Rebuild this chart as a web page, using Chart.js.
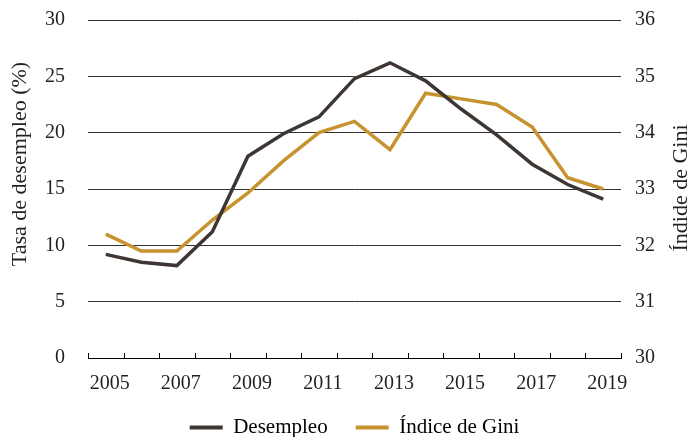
<!DOCTYPE html>
<html>
<head>
<meta charset="utf-8">
<script src="https://cdn.jsdelivr.net/npm/chart.js@4.4.1/dist/chart.umd.min.js"></script>
<style>
    html, body { margin: 0; padding: 0; background: #fff; }
    #wrap { width: 691px; height: 437px; }
</style>
</head>
<body>
<div id="wrap"><canvas id="chart" width="691" height="437"></canvas></div>
<script>
const years = ['2005', '2006', '2007', '2008', '2009', '2010', '2011', '2012', '2013', '2014', '2015', '2016', '2017', '2018', '2019'];
const desempleo = [9.2, 8.5, 8.2, 11.2, 17.9, 19.9, 21.4, 24.8, 26.2, 24.6, 22.1, 19.8, 17.2, 15.4, 14.1];
const gini = [32.2, 31.9, 31.9, 32.45, 32.93, 33.5, 34.0, 34.2, 33.7, 34.7, 34.6, 34.5, 34.1, 33.2, 33.0];

const leftTitle = 'Tasa de desempleo (%)';
const rightTitle = 'Índide de Gini';

const textColor = '#231f20';
const darkLine = '#3e3632';
const goldLine = '#c6932f';
const serif = "'Liberation Serif', 'Times New Roman', serif";

Chart.defaults.font.family = serif;
Chart.defaults.font.size = 20;
Chart.defaults.color = textColor;

// small tick marks on the x axis, pointing up between the years
const innerTicks = {
    id: 'innerTicks',
    afterDraw: (chart) => {
        const x = chart.scales.x;
        const ctx = chart.ctx;
        ctx.save();
        ctx.strokeStyle = '#000';
        ctx.lineWidth = 1;
        for (let i = 0; i <= years.length; i++) {
            const px = Math.round(x.getPixelForValue(i - 0.5)) + 0.5;
            ctx.beginPath();
            ctx.moveTo(px, x.top);
            ctx.lineTo(px, x.top - 5);
            ctx.stroke();
        }
        ctx.restore();
    }
};

// both axis titles read bottom to top
const axisTitles = {
    id: 'axisTitles',
    afterDraw: (chart) => {
        const { y, y2 } = chart.scales;
        const ctx = chart.ctx;
        const drawVertical = (text, cx, cy) => {
            ctx.save();
            ctx.translate(cx, cy);
            ctx.rotate(-Math.PI / 2);
            ctx.font = '22px ' + serif;
            ctx.fillStyle = textColor;
            ctx.textAlign = 'center';
            ctx.textBaseline = 'middle';
            ctx.fillText(text, 0, 0);
            ctx.restore();
        };
        drawVertical(leftTitle, y.left + 20, y.top + 144);
        drawVertical(rightTitle, y2.right - 10, y2.top + 168);
    }
};

// fixed axis box sizes; the wide label padding should not push the plot down
const fixSide = (width) => (scale) => {
    scale.width = width;
    scale.paddingTop = 0;
    scale.paddingBottom = 0;
};

const ctx = document.getElementById('chart').getContext('2d');

new Chart(ctx, {
    type: 'line',
    data: {
        labels: years,
        datasets: [{
            label: 'Desempleo',
            data: desempleo,
            yAxisID: 'y',
            borderColor: darkLine,
            backgroundColor: darkLine,
            borderWidth: 3.5,
            pointRadius: 0,
            tension: 0
        }, {
            label: 'Índice de Gini',
            data: gini,
            yAxisID: 'y2',
            borderColor: goldLine,
            backgroundColor: goldLine,
            borderWidth: 3.5,
            pointRadius: 0,
            tension: 0
        }]
    },
    options: {
        responsive: false,
        animation: false,
        layout: { padding: { top: 20, left: 0, right: 0, bottom: 0 } },
        scales: {
            x: {
                offset: true,
                grid: { display: false },
                border: { display: true, color: '#000', width: 1 },
                ticks: {
                    autoSkip: false,
                    maxRotation: 0,
                    padding: 6,
                    labelOffset: 4,
                    font: { size: 20 },
                    callback: (value, index) => index % 2 === 0 ? years[index] : ''
                },
                afterFit: (scale) => { scale.height = 31; }
            },
            y: {
                position: 'left',
                min: 0,
                max: 30,
                ticks: { stepSize: 5, padding: 23, font: { size: 20 } },
                grid: { color: '#333', lineWidth: 1, drawTicks: false },
                border: { display: false },
                afterFit: fixSide(88)
            },
            y2: {
                position: 'right',
                min: 30,
                max: 36,
                ticks: { stepSize: 1, padding: 14, font: { size: 20 } },
                grid: { display: false, drawTicks: false },
                border: { display: false },
                afterFit: fixSide(70)
            }
        },
        plugins: {
            legend: {
                position: 'bottom',
                fullSize: false,
                maxHeight: 48,
                labels: {
                    boxWidth: 33,
                    boxHeight: 4,
                    padding: 28,
                    font: { size: 21 },
                    color: textColor,
                    generateLabels: (chart) => chart.data.datasets.map((ds, i) => ({
                        text: ds.label,
                        fillStyle: ds.borderColor,
                        strokeStyle: ds.borderColor,
                        lineWidth: 0,
                        hidden: false,
                        datasetIndex: i
                    }))
                }
            },
            tooltip: { enabled: false }
        }
    },
    plugins: [innerTicks, axisTitles]
});
</script>
</body>
</html>
